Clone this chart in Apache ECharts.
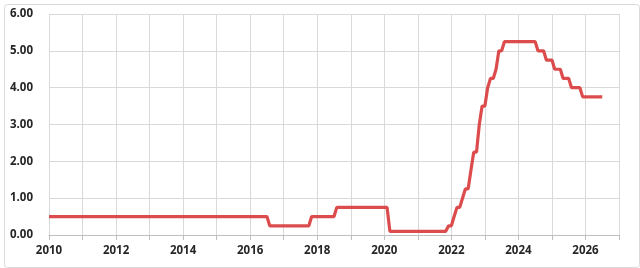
<!DOCTYPE html>
<html>
<head>
<meta charset="utf-8">
<script src="https://cdn.jsdelivr.net/npm/echarts@6/dist/echarts.min.js"></script>
<style>
html,body{margin:0;padding:0;background:#fff;}
#chart{width:640px;height:268px;}
</style>
</head>
<body>
<div id="chart"></div>
<script>
// Vertices of the rate line (decimal years, month-start positions) and values (%)
const dates = [
  2010.000, 2016.500, 2016.583, 2017.750, 2017.833, 2018.500, 2018.583,
  2020.083, 2020.167, 2021.833, 2021.917, 2022.000, 2022.083, 2022.167,
  2022.250, 2022.333, 2022.417, 2022.500, 2022.583, 2022.667, 2022.750,
  2022.833, 2022.917, 2023.000, 2023.083, 2023.167, 2023.250, 2023.333,
  2023.417, 2023.500, 2023.583, 2024.500, 2024.583, 2024.750, 2024.833,
  2025.000, 2025.083, 2025.250, 2025.333, 2025.500, 2025.583, 2025.833,
  2025.917, 2026.500
];
const rates = [
  0.50, 0.50, 0.25, 0.25, 0.50, 0.50, 0.75,
  0.75, 0.10, 0.10, 0.25, 0.25, 0.50, 0.75,
  0.75, 1.00, 1.25, 1.25, 1.75, 2.25, 2.25,
  3.00, 3.50, 3.50, 4.00, 4.25, 4.25, 4.50,
  5.00, 5.00, 5.25, 5.25, 5.00, 5.00, 4.75,
  4.75, 4.50, 4.50, 4.25, 4.25, 4.00, 4.00,
  3.75, 3.75
];
const xTickLabels = ['2010','2012','2014','2016','2018','2020','2022','2024','2026'];
const yTickLabels = ['0.00','1.00','2.00','3.00','4.00','5.00','6.00'];

const chart = echarts.init(document.getElementById('chart'), null, {renderer:'canvas'});
const labelFont = {color:'#262626', fontSize:11.5, fontWeight:'bold', fontFamily:'"Open Sans", "Liberation Sans", sans-serif'};
chart.setOption({
  animation:false,
  backgroundColor:'#ffffff',
  graphic:[{type:'rect', left:2, top:2, shape:{width:635, height:263, r:3}, style:{fill:'none', stroke:'#d9d9d9', lineWidth:1}, silent:true}],
  grid:{left:49, right:21, top:14, bottom:33, containLabel:false},
  xAxis:{
    type:'value', min:2010, max:2027, interval:1,
    axisLine:{show:true, lineStyle:{color:'#bfbfbf', width:1}},
    axisTick:{show:true, length:5, lineStyle:{color:'#bfbfbf'}},
    splitLine:{show:true, lineStyle:{color:'#d9d9d9', width:1}},
    axisLabel:Object.assign({margin:10, formatter:function(v){const s=String(Math.round(v)); return xTickLabels.indexOf(s)>=0?s:'';}}, labelFont)
  },
  yAxis:{
    type:'value', min:0, max:6, interval:1,
    axisLine:{show:false}, axisTick:{show:false},
    splitLine:{show:true, lineStyle:{color:'#d9d9d9', width:1}},
    axisLabel:Object.assign({margin:16, formatter:function(v){return yTickLabels[Math.round(v)];}}, labelFont)
  },
  series:[{
    type:'line',
    data:dates.map(function(d,i){return [d, rates[i]];}),
    showSymbol:false,
    lineStyle:{color:'#d9383a', width:3.2, opacity:0.9},
    itemStyle:{color:'#d9383a'}
  }]
});
</script>
</body>
</html>
